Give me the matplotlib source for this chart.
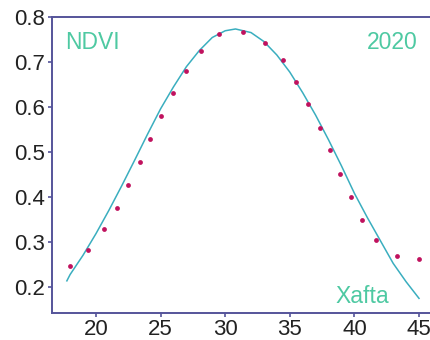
import matplotlib.pyplot as plt

# fitted NDVI curve
curve_doy = [17.75, 18, 19, 20, 21, 22, 23, 24, 25, 26, 27, 28, 29, 30, 30.8,
             32, 33, 34, 35, 36, 37, 38, 39, 40, 41, 42, 43, 44, 45]
curve_ndvi = [0.213, 0.227, 0.270, 0.318, 0.370, 0.425, 0.482, 0.540, 0.596, 0.645,
              0.690, 0.726, 0.755, 0.770, 0.774, 0.766, 0.746, 0.716, 0.678, 0.632,
              0.582, 0.527, 0.469, 0.408, 0.354, 0.303, 0.252, 0.211, 0.174]

# observed NDVI points
obs_doy = [18.0, 19.4, 20.6, 21.6, 22.5, 23.4, 24.2, 25.0, 26.0, 27.0, 28.1, 29.5,
           31.4, 33.05, 34.5, 35.5, 36.4, 37.3, 38.1, 38.9, 39.7, 40.6, 41.7, 43.3, 45.0]
obs_ndvi = [0.245, 0.282, 0.328, 0.376, 0.427, 0.478, 0.530, 0.581, 0.632, 0.680, 0.726, 0.762,
            0.767, 0.742, 0.705, 0.657, 0.606, 0.554, 0.504, 0.450, 0.399, 0.349, 0.303, 0.269, 0.261]

plt.rcParams['font.family'] = ['Liberation Sans', 'DejaVu Sans']
axis_col = "#55549a"
text_col = "#4ec9a2"

fig = plt.figure(figsize=(4.3, 3.4), dpi=100)
ax = fig.add_axes([52 / 430, 27 / 340, 378 / 430, 295.7 / 340])

ax.plot(curve_doy, curve_ndvi, color="#3aaebf", lw=1.1, zorder=2)
ax.scatter(obs_doy, obs_ndvi, s=12, color="#c0125e", zorder=3, linewidths=0)

ax.set_xlim(16.6, 45.85)
ax.set_ylim(0.1414, 0.8)
ax.set_xticks([20, 25, 30, 35, 40, 45])
ax.set_yticks([0.2, 0.3, 0.4, 0.5, 0.6, 0.7, 0.8])
ax.set_yticklabels(["0.2", "0.3", "0.4", "0.5", "0.6", "0.7", "0.8"])

for side in ["left", "bottom", "top"]:
    ax.spines[side].set_color(axis_col)
    ax.spines[side].set_linewidth(1.4)
ax.spines["right"].set_visible(False)
ax.tick_params(colors=axis_col, labelcolor="#222222", labelsize=16, length=3, width=1.2, pad=2)
ax.tick_params(axis="x", pad=1)

ax.text(0.034, 0.915, "NDVI", transform=ax.transAxes, color=text_col, fontsize=16.5, va="center")
ax.text(0.968, 0.915, "2020", transform=ax.transAxes, color=text_col, fontsize=16.5,
        va="center", ha="right")
ax.text(0.749, 0.055, "Xafta", transform=ax.transAxes, color=text_col, fontsize=16.5, va="center")

fig.savefig("out.png", dpi=100)
